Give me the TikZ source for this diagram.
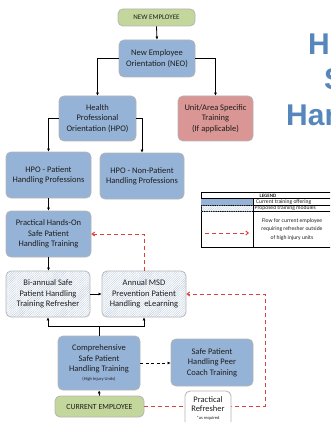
\documentclass[tikz,border=0pt]{standalone}
\usepackage{fontspec}
\setmainfont{Carlito}
\newfontfamily\titlefont{Liberation Sans}
\usetikzlibrary{patterns.meta,arrows.meta}
\definecolor{curblue}{HTML}{95B3D7}
\definecolor{empgreen}{HTML}{C3D69B}
\definecolor{unitpink}{HTML}{D99694}
\definecolor{edgegray}{HTML}{B4B4B4}
\definecolor{hatchcol}{HTML}{BCCBDD}
\definecolor{txt}{HTML}{1E1E1E}
\definecolor{flowred}{HTML}{D9413E}
\definecolor{titleblue}{HTML}{5587BD}
\tikzset{
  box/.style={draw=edgegray, line width=0.8pt, rounded corners=5pt, align=center,
    text=txt, font=\fontsize{8.5}{10.3}\selectfont, inner sep=0pt},
  cur/.style={box, fill=curblue},
  hatchfill/.style={pattern={Lines[angle=45,distance=1.6pt,line width=0.4pt]}, pattern color=hatchcol},
  prop/.style={box, fill=white, postaction={hatchfill}},
  arr/.style={draw=black, line width=0.8pt, -{Latex[length=3pt,width=3pt]}},
  redflow/.style={draw=flowred, line width=1pt, dash pattern=on 4pt off 3pt, -{Straight Barb[length=2.5pt,width=4pt]}},
  legtext/.style={font=\fontsize{5.6}{8.8}\selectfont, text=txt, inner sep=0pt},
  titletext/.style={anchor=base west, inner sep=0pt, font=\titlefont\bfseries\fontsize{30}{30}\selectfont, text=titleblue}
}
\begin{document}
\begin{tikzpicture}[x=1pt,y=-1pt]
\useasboundingbox (0,0) rectangle (330,422);
\clip (0,0) rectangle (330,422);
% title fragments (cut off by the right edge, as in the reference)
\node[titletext] (t1) at (308,55) {H};
\node[titletext] (t2) at (324,90) {S};
\node[titletext] (t3) at (286,125) {Han};
% nodes
\node[box, fill=empgreen, minimum width=77, minimum height=17, font=\fontsize{7}{8}\selectfont] (newemp) at (156.5,17.5) {NEW EMPLOYEE};
\node[cur, minimum width=76, minimum height=37] (neo) at (157,58.5) {New Employee\\Orientation (NEO)};
\node[cur, minimum width=77, minimum height=45] (hpo) at (97.5,118.5) {Health\\Professional\\Orientation (HPO)};
\node[box, fill=unitpink, minimum width=75, minimum height=45] (unit) at (215.5,118.5) {Unit/Area Specific\\Training\\(If applicable)};
\node[cur, minimum width=85, minimum height=46] (hpop) at (48.5,175) {HPO - Patient\\Handling Professions};
\node[cur, minimum width=84, minimum height=46] (hponp) at (142,176) {HPO - Non-Patient\\Handling Professions};
\node[cur, minimum width=85, minimum height=46] (pho) at (48.5,234) {Practical Hands-On\\Safe Patient\\Handling Training};
\node[prop, minimum width=84, minimum height=46] (biann) at (48,294) {Bi-annual Safe\\Patient Handling\\Training Refresher};
\node[prop, minimum width=84, minimum height=46] (msd) at (144,294) {Annual MSD\\Prevention Patient\\Handling\ \ eLearning};
\node[cur, minimum width=82, minimum height=54] (comp) at (99,363) {Comprehensive\\Safe Patient\\Handling Training\\[-1.5pt]{\fontsize{4.5}{5}\selectfont (High Injury Units)}};
\node[cur, minimum width=82, minimum height=47] (peer) at (212,362.5) {Safe Patient\\Handling Peer\\Coach Training};
\node[box, fill=empgreen, minimum width=89, minimum height=21, font=\fontsize{7.8}{8}\selectfont] (curemp) at (99.5,406.5) {CURRENT EMPLOYEE};
% connectors
\draw[arr] (newemp.south) -- (neo.north);
\draw[arr] (neo.west) -| (hpo.north);
\draw[arr] (neo.east) -| (unit.north);
\draw[arr] (hpo.west) -| (hpop.north);
\draw[arr] (hpo.east) -| (hponp.north);
\draw[arr] (hpop.south) -- (pho.north);
\draw[arr] (pho.south) -- (pho.south |- biann.north);
\draw[arr] (biann.east) -- (msd.west);
\draw[line width=0.8pt] (comp.north) -- ++(0,-9) coordinate (junc);
\draw[arr] (junc) -| (biann.south);
\draw[arr] (junc) -| (msd.south);
\draw[arr, dash pattern=on 3pt off 2.5pt] (comp.east) -- (comp.east -| peer.west);
\draw[arr] (curemp.north) -- (comp.south);
\coordinate (rc) at (265,294);
\draw[redflow] (curemp.east) -| (rc) -- (msd.east);
\draw[redflow] (msd.north) |- (pho.east);
% practical refresher (box runs off the bottom edge)
\draw[draw=edgegray, line width=0.8pt, fill=white, rounded corners=5pt] (185,391) rectangle (231,445);
\node[align=center, inner sep=0pt, anchor=north, text=txt, font=\fontsize{8.5}{9.5}\selectfont] (pref) at (208,396) {Practical\\Refresher\\[-2pt]{\fontsize{4.5}{5}\selectfont *as required}};
% legend
\draw[line width=0.8pt] (201,192) rectangle (336,247);
\draw[line width=0.6pt] (201,198.5) -- (336,198.5);
\draw[line width=0.6pt] (201,205) -- (336,205);
\draw[line width=0.6pt] (201,211.5) -- (336,211.5);
\draw[line width=0.8pt] (253,198.5) -- (253,247);
\fill[curblue] (201.4,198.8) rectangle (252.6,204.7);
\fill[hatchfill] (201.4,205.3) rectangle (252.6,211.2);
\node[legtext, font=\fontsize{5}{6}\selectfont\bfseries] (lg) at (268,195.4) {LEGEND};
\node[legtext, anchor=west] (l1) at (256,201.9) {Current training offering};
\node[legtext, anchor=west] (l2) at (254.5,208.4) {Proposed training modules};
\node[legtext, align=center] (l3) at (292,229.5) {Flow for current employee\\requiring refresher outside\\of high injury units};
\coordinate (la) at (205,233);
\coordinate (lb) at (249,233);
\draw[redflow] (la) -- (lb);
\end{tikzpicture}
\end{document}
